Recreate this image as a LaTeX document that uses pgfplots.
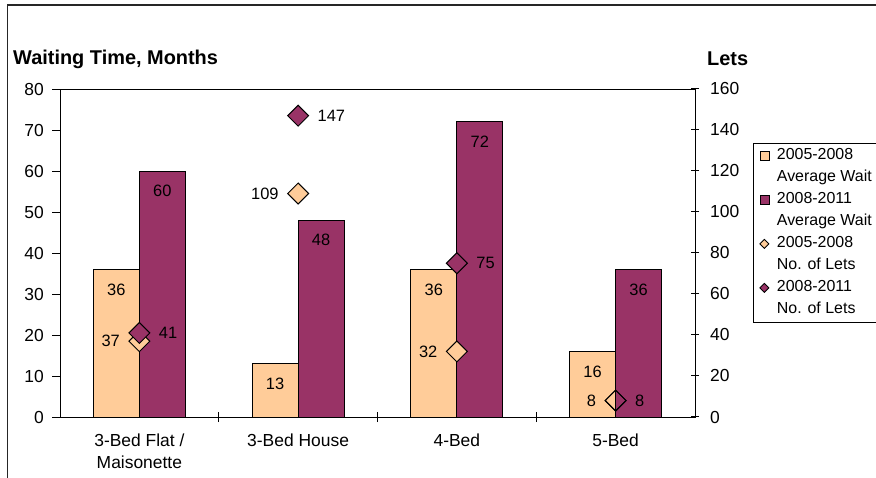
\documentclass[border=0pt]{standalone}
\usepackage{fontspec}
\setmainfont{Liberation Sans}
\usepackage{pgfplots}
\pgfplotsset{compat=1.18}
\definecolor{cOr}{HTML}{FFCC99}
\definecolor{cPu}{HTML}{993366}
\begin{document}
\begin{tikzpicture}
\useasboundingbox (0,0) rectangle (876bp,478bp);
\fill[white] (0,0) rectangle (876bp,478bp);
\draw[line width=1.3bp, black!85] (7.5bp,-2bp) -- (7.5bp,473bp) -- (880bp,473bp);
\node[anchor=west, inner sep=0pt, font=\fontsize{20}{24}\selectfont\bfseries] at (13bp,419bp) {Waiting Time, Months};
\node[anchor=west, inner sep=0pt, font=\fontsize{20}{24}\selectfont\bfseries] at (707bp,419bp) {Lets};

\begin{axis}[
  at={(60bp,61bp)}, anchor=south west,
  scale only axis, width=635bp, height=328bp,
  xmin=-0.5, xmax=3.5, ymin=0, ymax=80,
  ybar=0pt, bar width=46bp,
  ytick={0,10,...,80}, ytick pos=left, ytick align=outside,
  xtick={0,1,2,3}, xtick pos=bottom, xtick align=center,
  xticklabels={{3-Bed Flat /\\Maisonette},{3-Bed House},{4-Bed},{5-Bed}},
  major x tick style={draw=none},
  minor xtick={0.5,1.5,2.5}, minor tick length=10bp,
  major tick length=8bp,
  axis line style={line width=1bp, black},
  tick style={line width=1bp, black},
  tick label style={font=\fontsize{17.5}{22}\selectfont},
  /pgf/number format/assume math mode=true,
  xticklabel style={align=center, inner sep=0pt, anchor=north, yshift=-13bp},
  yticklabel style={inner sep=0pt, anchor=east, xshift=-8bp},
  nodes near coords,
  every node near coord/.append style={anchor=center, yshift=-20bp, black, font=\fontsize{16.5}{20}\selectfont},
]
\addplot[fill=cOr, draw=black, line width=0.9bp] coordinates {(0,36) (1,13) (2,36) (3,16)};
\addplot[fill=cPu, draw=black, line width=0.9bp] coordinates {(0,60) (1,48) (2,72) (3,36)};
\end{axis}

\begin{axis}[
  at={(60bp,61bp)}, anchor=south west,
  scale only axis, width=635bp, height=328bp,
  xmin=-0.5, xmax=3.5, ymin=0, ymax=160,
  ytick={0,20,...,160},
  axis x line=none, axis y line*=right,
  ytick align=center, major tick length=8bp,
  axis line style={line width=1bp, black},
  tick style={line width=1bp, black},
  tick label style={font=\fontsize{17.5}{22}\selectfont},
  /pgf/number format/assume math mode=true,
  yticklabel style={inner sep=0pt, anchor=west, xshift=11bp},
  legend image code/.code={\draw[#1] plot coordinates {(0bp,0bp)};},
  legend cell align=left,
  legend style={at={(1.0913,0.8354)}, anchor=north west, draw=black, line width=0.8bp, fill=white,
    font=\fontsize{16}{18}\selectfont,
    nodes={inner sep=0pt, text height=11.5bp, text depth=3.5bp},
    column sep=8bp, row sep=7bp, inner xsep=6.5bp, inner ysep=5bp},
]
\addlegendimage{only marks, mark=square*, mark size=4.5bp, mark options={fill=cOr, draw=black, line width=0.8bp}}
\addlegendentry{2005-2008}
\addlegendimage{empty legend}
\addlegendentry{Average Wait}
\addlegendimage{only marks, mark=square*, mark size=4.5bp, mark options={fill=cPu, draw=black, line width=0.8bp}}
\addlegendentry{2008-2011}
\addlegendimage{empty legend}
\addlegendentry{Average Wait}
\addlegendimage{only marks, mark=square*, mark size=3.2bp, mark options={rotate=45, fill=cOr, draw=black, line width=0.8bp}}
\addlegendentry{2005-2008}
\addlegendimage{empty legend}
\addlegendentry{No. of Lets}
\addlegendimage{only marks, mark=square*, mark size=3.2bp, mark options={rotate=45, fill=cPu, draw=black, line width=0.8bp}}
\addlegendentry{2008-2011}
\addlegendimage{empty legend}
\addlegendentry{No. of Lets}

% 2005-2008 lets
\addplot[forget plot, only marks, mark=square*, mark size=7.4bp,
  mark options={rotate=45, fill=cOr, draw=black, line width=1bp},
  nodes near coords, every node near coord/.append style={anchor=east, inner sep=0pt, xshift=-19bp, black, font=\fontsize{16.5}{20}\selectfont}]
  coordinates {(0,37) (1,109) (2,32)};
\addplot[forget plot, only marks, mark=square, mark size=7.4bp,
  mark options={rotate=45, draw=black, line width=1bp},
  nodes near coords, every node near coord/.append style={anchor=east, inner sep=0pt, xshift=-19bp, black, font=\fontsize{16.5}{20}\selectfont}]
  coordinates {(3,8)};
% 2008-2011 lets
\addplot[forget plot, only marks, mark=square*, mark size=7.4bp,
  mark options={rotate=45, fill=cPu, draw=black, line width=1bp},
  nodes near coords, every node near coord/.append style={anchor=west, inner sep=0pt, xshift=19bp, black, font=\fontsize{16.5}{20}\selectfont}]
  coordinates {(0,41) (1,147) (2,75)};
\addplot[forget plot, only marks, mark=square, mark size=7.4bp,
  mark options={rotate=45, draw=black, line width=1bp},
  nodes near coords, every node near coord/.append style={anchor=west, inner sep=0pt, xshift=19bp, black, font=\fontsize{16.5}{20}\selectfont}]
  coordinates {(3,8)};
\end{axis}
\end{tikzpicture}
\end{document}
